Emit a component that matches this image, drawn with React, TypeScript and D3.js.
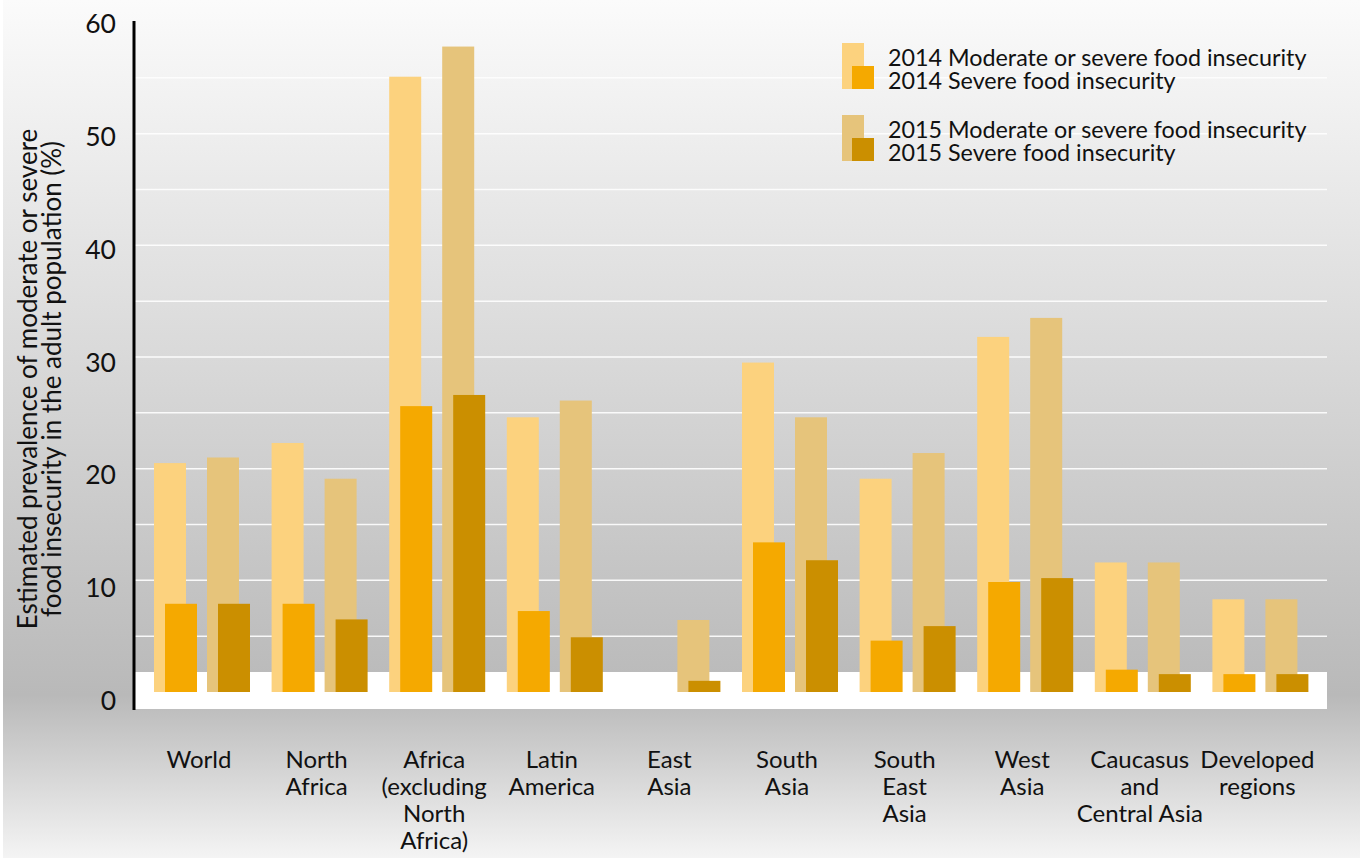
import React from "react";
import * as d3 from "d3";

const categories: string[][] = [
  ["World"],
  ["North", "Africa"],
  ["Africa", "(excluding", "North", "Africa)"],
  ["Latin", "America"],
  ["East", "Asia"],
  ["South", "Asia"],
  ["South", "East", "Asia"],
  ["West", "Asia"],
  ["Caucasus", "and", "Central Asia"],
  ["Developed", "regions"],
];
const catKeys = categories.map((c) => c.join(" "));

const mod2014: (number | null)[] = [20.5, 22.3, 55.1, 24.6, null, 29.5, 19.1, 31.8, 11.6, 8.3];
const sev2014: (number | null)[] = [7.9, 7.9, 25.6, 7.25, null, 13.4, 4.6, 9.85, 2.0, 1.6];
const mod2015: number[] = [21.0, 19.1, 57.8, 26.1, 6.45, 24.6, 21.4, 33.5, 11.6, 8.3];
const sev2015: number[] = [7.9, 6.5, 26.6, 4.9, 1.0, 11.8, 5.9, 10.2, 1.6, 1.6];

const yTicks = [0, 10, 20, 30, 40, 50, 60];
const gridValues = [5, 10, 15, 20, 25, 30, 35, 40, 45, 50, 55];

const legendItems = [
  { label: "2014 Moderate or severe food insecurity", sub: "2014 Severe food insecurity", c1: "#FCD27E", c2: "#F5A900" },
  { label: "2015 Moderate or severe food insecurity", sub: "2015 Severe food insecurity", c1: "#E6C47B", c2: "#CB8F00" },
];

const COLORS = { m14: "#FCD27E", s14: "#F5A900", m15: "#E6C47B", s15: "#CB8F00" };
const FONT = "Lato, 'Open Sans', sans-serif";

export default function App() {
  const W = 1360, H = 861;
  const y = d3.scaleLinear().domain([0, 60]).range([692, 22]);
  const yLab = d3.scaleLinear().domain([0, 60]).range([700, 23]);
  const x = d3.scaleBand<string>().domain(catKeys).range([154, 154 + 10 * 117.6]).padding(0);
  const bw = 32;
  const plotL = 134, plotR = 1327;

  const bar = (v: number | null, i: number, off: number, color: string, key: string) =>
    v == null ? null : (
      <rect key={key} x={(x(catKeys[i]) as number) + off} y={y(v)} width={bw} height={y(0) - y(v)} fill={color} />
    );

  return (
    <svg width={W} height={H} style={{ display: "block", position: "absolute", left: 0, top: 0 }}>
      <defs>
        <linearGradient id="bg" x1="0" y1="0" x2="0" y2="1">
          <stop offset="0" stopColor="#fbfbfb" />
          <stop offset="0.81" stopColor="#b9b9b9" />
          <stop offset="1" stopColor="#f4f4f4" />
        </linearGradient>
      </defs>
      <rect x={0} y={0} width={W} height={H} fill="#ffffff" />
      <rect x={3} y={0} width={W - 3} height={H - 3} fill="url(#bg)" />
      {gridValues.map((g) => (
        <line key={g} x1={plotL} x2={plotR} y1={y(g)} y2={y(g)} stroke="#ffffff" strokeWidth={1.5} opacity={0.9} />
      ))}
      <rect x={plotL} y={672} width={plotR - plotL} height={37} fill="#ffffff" />
      {categories.map((_, i) => (
        <g key={i}>
          {bar(mod2014[i], i, 0, COLORS.m14, "a")}
          {bar(sev2014[i], i, 11, COLORS.s14, "b")}
          {bar(mod2015[i], i, 53, COLORS.m15, "c")}
          {bar(sev2015[i], i, 64, COLORS.s15, "d")}
        </g>
      ))}
      <line x1={plotL} x2={plotL} y1={21} y2={710} stroke="#000" strokeWidth={3} />
      {yTicks.map((t) => (
        <text key={t} x={116} y={yLab(t)} textAnchor="end" dominantBaseline="central" fontFamily={FONT} fontSize={26.5} fill="#111">
          {t}
        </text>
      ))}
      <text transform="translate(27,379) rotate(-90)" textAnchor="middle" dominantBaseline="central" fontFamily={FONT} fontSize={26} fill="#111">
        Estimated prevalence of moderate or severe
      </text>
      <text transform="translate(51,379) rotate(-90)" textAnchor="middle" dominantBaseline="central" fontFamily={FONT} fontSize={26} fill="#111">
        food insecurity in the adult population (%)
      </text>
      {categories.map((lines, i) => (
        <text key={i} textAnchor="middle" fontFamily={FONT} fontSize={24} fill="#111">
          {lines.map((l, j) => (
            <tspan key={j} x={(x(catKeys[i]) as number) + 45} y={758 + j * 27} dominantBaseline="central">
              {l}
            </tspan>
          ))}
        </text>
      ))}
      {legendItems.map((it, k) => {
        const top = 43 + k * 72;
        return (
          <g key={k}>
            <rect x={842} y={top} width={22} height={46} fill={it.c1} />
            <rect x={852} y={top + 23} width={22} height={23} fill={it.c2} />
            <text x={888} y={top + 14} dominantBaseline="central" fontFamily={FONT} fontSize={23.3} fill="#111">
              {it.label}
            </text>
            <text x={888} y={top + 37} dominantBaseline="central" fontFamily={FONT} fontSize={23.3} fill="#111">
              {it.sub}
            </text>
          </g>
        );
      })}
    </svg>
  );
}
